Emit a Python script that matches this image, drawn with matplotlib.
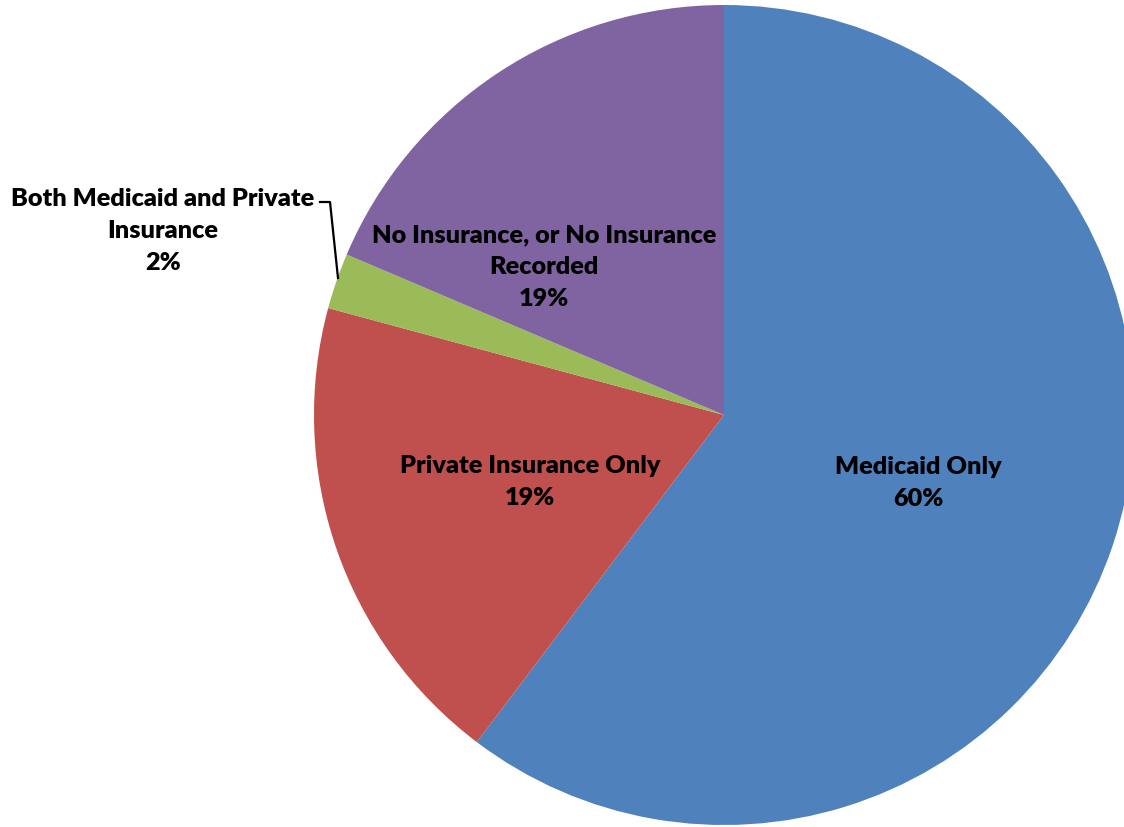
import matplotlib
matplotlib.use("Agg")
import matplotlib.pyplot as plt

categories = ["Medicaid Only", "Private Insurance Only",
              "Both Medicaid and Private\nInsurance", "No Insurance, or No Insurance\nRecorded"]
shares = [60.3, 18.9, 2.2, 18.6]
colors = ["#4F81BD", "#C0504D", "#9BBB59", "#8064A2"]

W, H = 1124, 828
fig = plt.figure(figsize=(W / 100, H / 100), dpi=100)
ax = fig.add_axes([0, 0, 1, 1])

cx, cy, r = 724, H - 416, 410
ax.pie(shares, colors=colors, startangle=90, counterclock=False,
       radius=r, center=(cx, cy), wedgeprops=dict(linewidth=0))
ax.set_xlim(0, W)
ax.set_ylim(0, H)
ax.set_aspect("equal")
ax.axis("off")

font = dict(family="Lato", fontweight="heavy", fontsize=18.2, color="black",
            ha="center", va="center", linespacing=1.56)

label_pos = [(918, 483), (530, 482), (163, 231), (544, 267)]
for name, val, (x, y) in zip(categories, shares, label_pos):
    ax.text(x, H - y, f"{name}\n{round(val):d}%", **font)

# leader line for the small slice
ax.plot([320, 330, 338], [H - 203, H - 203, H - 279], color="black", lw=1.6)

fig.savefig("out.png", dpi=100)
